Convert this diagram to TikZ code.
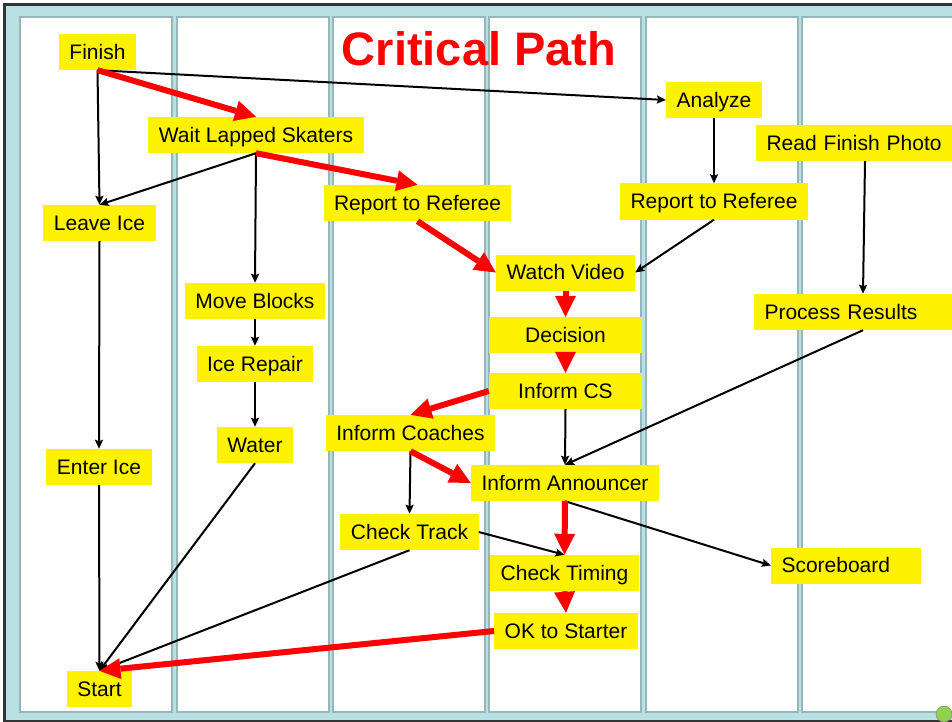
\documentclass[tikz,border=0pt]{standalone}
\usepackage{fontspec}
\setmainfont{Liberation Sans}
\usetikzlibrary{arrows.meta}
\definecolor{slideblue}{RGB}{185,224,227}
\definecolor{panelgray}{RGB}{150,182,186}
\definecolor{dotgreen}{RGB}{146,208,80}
\tikzset{
  task/.style={fill=yellow, inner xsep=10.5pt, inner ysep=0pt, minimum height=36pt,
    text height=17pt, text depth=2.5pt, font=\fontsize{21}{25}\selectfont},
  flow/.style={line width=2pt, -{Stealth[length=9pt,width=8pt,inset=1.5pt]}},
  crit/.style={red, line width=6pt, -{Triangle[length=21pt,width=21pt,line width=0pt]}}
}

\begin{document}
\begin{tikzpicture}[x=1pt,y=-1pt]
        \useasboundingbox (0,0) rectangle (952,722);
        % slide frame and columns
        \fill[slideblue] (5,5) rectangle (970,720);
        \draw[line width=2.5pt, black!80] (970,4.5) -- (4.5,4.5) -- (4.5,721) -- (970,721);
        \foreach \x in {20,177,333,489,646,802}
            \draw[panelgray, line width=2pt, fill=white] (\x,17) rectangle ++(152,695);
        \fill[dotgreen, draw=gray] (944,714) circle (8pt);

        \node[text=red, font=\bfseries\fontsize{47}{50}\selectfont, anchor=base] (title) at (479,66) {Critical Path};

        \node[task] (finish) at (97.5,52) {Finish};
        \node[task] (wait) at (256,135) {Wait Lapped Skaters};
        \node[task] (leave) at (99.5,223) {Leave Ice};
        \node[task] (enter) at (99,467) {Enter Ice};
        \node[task] (start) at (99.5,689) {Start};
        \node[task] (blocks) at (255,301) {Move Blocks};
        \node[task] (repair) at (255,364) {Ice Repair};
        \node[task] (water) at (255,445) {Water};
        \node[task] (referee1) at (417.5,203) {Report to Referee};
        \node[task] (referee2) at (714,201.5) {Report to Referee};
        \node[task] (analyze) at (714,100) {Analyze};
        \node[task, text width=197pt, align=left] (photo) at (865,143) {Read Finish Photo};
        \node[task, text width=197pt, align=left] (results) at (863,312) {Process Results};
        \node[task] (video) at (565.5,272.5) {Watch Video};
        \node[task, minimum width=153pt] (decision) at (565.5,335) {Decision};
        \node[task, minimum width=153pt] (cs) at (565.5,391) {Inform CS};
        \node[task] (coaches) at (410.5,433) {Inform Coaches};
        \node[task] (announcer) at (565,483) {Inform Announcer};
        \node[task] (track) at (409.5,532) {Check Track};
        \node[task] (timing) at (564.5,573) {Check Timing};
        \node[task] (okstart) at (566,631) {OK to Starter};
        \node[task, text width=129pt, align=left] (scoreboard) at (846,565.5) {Scoreboard};

        % ordinary dependencies
        \draw[flow] (finish.south) -- (leave.north);
        \draw[flow] (finish.south) -- (analyze.west);
        \draw[flow] (wait.south) -- (leave.north);
        \draw[flow] (wait.south) -- (blocks.north);
        \draw[flow] (blocks.south) -- (repair.north);
        \draw[flow] (repair.south) -- (water.north);
        \draw[flow] (water.south) -- (start.north);
        \draw[flow] (leave.south) -- (enter.north);
        \draw[flow] (enter.south) -- (start.north);
        \draw[flow] (track.south) -- (start.north);
        \draw[flow] (analyze.south) -- (referee2.north);
        \draw[flow] (referee2.south) -- (video.east);
        \draw[flow] (photo.south) -- (results.north);
        \draw[flow] (results.south) -- (announcer.north);
        \draw[flow] (cs.south) -- (announcer.north);
        \draw[flow] (coaches.south) -- (track.north);
        \draw[flow] (track.east) -- (timing.north);
        \draw[flow] (announcer.south) -- (scoreboard.west);

        % critical path
        \draw[crit] (finish.south) -- (wait.north);
        \draw[crit] (wait.south) -- (referee1.north);
        \draw[crit] (referee1.south) -- (video.west);
        \draw[crit] (video.south) -- (decision.north);
        \draw[crit] (decision.south) -- (cs.north);
        \draw[crit] (cs.west) -- (coaches.north);
        \draw[crit] (coaches.south) -- (announcer.west);
        \draw[crit] (announcer.south) -- (timing.north);
        \draw[crit] (timing.south) -- (okstart.north);
        \draw[crit] (okstart.west) -- (start.north);
    \end{tikzpicture}
\end{document}
